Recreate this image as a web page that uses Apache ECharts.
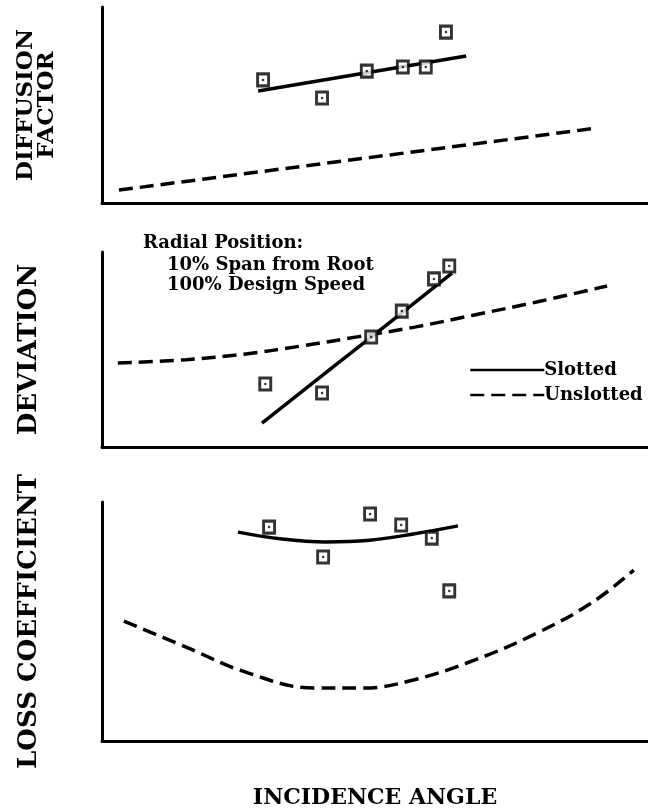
<!DOCTYPE html>
<html>
<head>
<meta charset="utf-8">
<script src="https://cdn.jsdelivr.net/npm/echarts@6/dist/echarts.min.js"></script>
<style>
html,body{margin:0;padding:0;background:#fff;}
#chart{width:648px;height:811px;}
</style>
</head>
<body>
<div id="chart"></div>
<script>
// ---- Data (x: incidence angle, relative 0-100; y: relative 0-100 per panel) ----
const panelTitles = ['DIFFUSION\nFACTOR', 'DEVIATION', 'LOSS COEFFICIENT'];
const xTitle = 'INCIDENCE ANGLE';
const legendNames = ['Slotted', 'Unslotted'];
const noteLines = ['Radial Position:', '10% Span from Root', '100% Design Speed'];

const diffPtsX = [29.5, 40.3, 48.5, 55.1, 59.3, 63.0];
const diffPtsY = [62.8, 53.6, 67.3, 69.4, 69.4, 87.2];
const diffSlottedX = [28.6, 66.7];
const diffSlottedY = [57.1, 75.0];
const diffUnslottedX = [3.1, 90.8];
const diffUnslottedY = [6.6, 38.3];

const devPtsX = [29.9, 40.3, 49.3, 54.9, 60.8, 63.6];
const devPtsY = [32.3, 27.7, 56.4, 69.7, 86.2, 92.8];
const devSlottedX = [29.3, 49.3, 64.1];
const devSlottedY = [12.3, 56.4, 89.2];
const devUnslottedX = [2.9, 15.4, 26.0, 36.5, 47.0, 57.5, 68.0, 80.0, 92.5];
const devUnslottedY = [43.1, 44.8, 47.6, 51.8, 56.6, 61.6, 67.6, 74.6, 82.6];

const lossPtsX = [30.6, 40.5, 49.1, 54.8, 60.4, 63.6];
const lossPtsY = [89.5, 77.0, 95.0, 90.4, 84.9, 62.8];
const lossSlottedX = [24.9, 33.0, 41.0, 49.0, 57.0, 65.2];
const lossSlottedY = [87.4, 84.5, 83.3, 84.0, 86.6, 90.0];
const lossUnslottedX = [4.0, 15.4, 26.7, 38.8, 48.0, 57.0, 68.3, 79.7, 89.6, 97.4];
const lossUnslottedY = [50.2, 39.3, 28.5, 22.2, 22.2, 25.5, 33.9, 45.2, 57.7, 71.5];

// ---- Helpers ----
const zip = (xs, ys) => xs.map((x, i) => [x, ys[i]]);
const SERIF = '"DejaVu Serif", "Liberation Serif", serif';

const panels = [
  {pts: [diffPtsX, diffPtsY], sl: [diffSlottedX, diffSlottedY], un: [diffUnslottedX, diffUnslottedY], smooth: false},
  {pts: [devPtsX, devPtsY], sl: [devSlottedX, devSlottedY], un: [devUnslottedX, devUnslottedY], smooth: 0.4},
  {pts: [lossPtsX, lossPtsY], sl: [lossSlottedX, lossSlottedY], un: [lossUnslottedX, lossUnslottedY], smooth: 0.4}
];

const grids = [
  {left: 102, right: 0, top: 7, height: 196},
  {left: 102, right: 0, top: 252, height: 195},
  {left: 102, right: 0, top: 502, height: 239}
];

const axisLine = {show: true, onZero: false, lineStyle: {color: '#000', width: 3}};

const xAxes = grids.map((g, i) => ({
  type: 'value', gridIndex: i, min: 0, max: 100,
  axisLine: axisLine, axisTick: {show: false}, axisLabel: {show: false}, splitLine: {show: false},
  name: i === 2 ? xTitle : '', nameLocation: 'middle', nameGap: 46,
  nameTextStyle: {fontFamily: SERIF, fontWeight: 'bold', fontSize: 22, color: '#000'}
}));

const nameStyles = [
  {fontFamily: SERIF, fontWeight: 'bold', fontSize: 23, lineHeight: 21, color: '#000'},
  {fontFamily: SERIF, fontWeight: 'bold', fontSize: 26, color: '#000'},
  {fontFamily: SERIF, fontWeight: 'bold', fontSize: 26, color: '#000'}
];

const yAxes = grids.map((g, i) => ({
  type: 'value', gridIndex: i, min: 0, max: 100,
  axisLine: axisLine, axisTick: {show: false}, axisLabel: {show: false}, splitLine: {show: false},
  name: panelTitles[i], nameLocation: 'middle', nameRotate: 90,
  nameGap: i === 0 ? 44 : 60,
  nameTextStyle: nameStyles[i]
}));

const series = [];
panels.forEach((p, i) => {
  series.push({
    name: 'Slotted', type: 'line', xAxisIndex: i, yAxisIndex: i,
    data: zip(p.sl[0], p.sl[1]), symbol: 'none', smooth: p.smooth,
    lineStyle: {color: '#000', width: 3.5, type: 'solid'}, itemStyle: {color: '#000'}, z: 3
  });
  series.push({
    name: 'Unslotted', type: 'line', xAxisIndex: i, yAxisIndex: i,
    data: zip(p.un[0], p.un[1]), symbol: 'none', smooth: p.smooth,
    lineStyle: {color: '#000', width: 3.5, type: [14, 7]}, itemStyle: {color: '#000'}, z: 3
  });
  series.push({
    name: 'Data', type: 'scatter', xAxisIndex: i, yAxisIndex: i,
    data: zip(p.pts[0], p.pts[1]), symbol: 'rect', symbolSize: [11, 12],
    itemStyle: {color: '#fff', borderColor: '#000', borderWidth: 3}, z: 5
  });
  series.push({
    name: 'Dot', type: 'scatter', xAxisIndex: i, yAxisIndex: i,
    data: zip(p.pts[0], p.pts[1]), symbol: 'circle', symbolSize: 2.5,
    itemStyle: {color: '#000'}, z: 6
  });
});

const chart = echarts.init(document.getElementById('chart'), null, {renderer: 'canvas'});
chart.setOption({
  animation: false,
  backgroundColor: '#fff',
  grid: grids,
  xAxis: xAxes,
  yAxis: yAxes,
  legend: {
    data: legendNames, orient: 'vertical', left: 469, top: 361,
    itemWidth: 74, itemHeight: 14, itemGap: 7, padding: 0,
    itemStyle: {opacity: 0},
    lineStyle: {width: 2.5},
    textStyle: {fontFamily: SERIF, fontWeight: 'bold', fontSize: 18, color: '#000', padding: [0, 0, 0, -5]},
    selectedMode: false
  },
  graphic: [
    {type: 'text', left: 143, top: 234, style: {text: noteLines[0], font: 'bold 18px ' + SERIF, fill: '#000'}},
    {type: 'text', left: 167, top: 256, style: {text: noteLines[1], font: 'bold 18px ' + SERIF, fill: '#000'}},
    {type: 'text', left: 167, top: 276, style: {text: noteLines[2], font: 'bold 18px ' + SERIF, fill: '#000'}}
  ],
  series: series
});
</script>
</body>
</html>
